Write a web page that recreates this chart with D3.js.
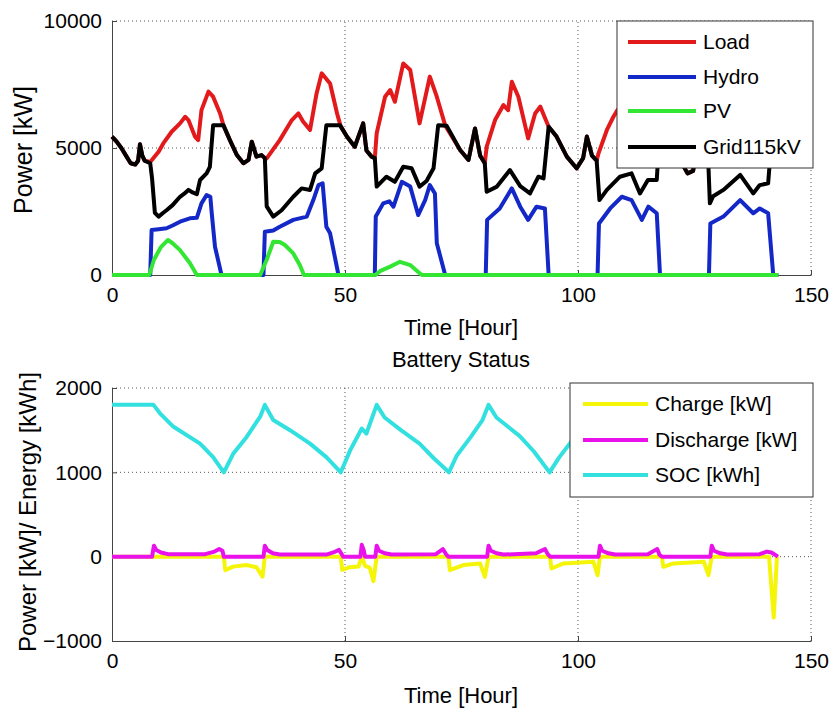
<!DOCTYPE html>
<html>
<head>
<meta charset="utf-8">
<script src="https://cdn.jsdelivr.net/npm/d3@7"></script>
<style>
  body { margin: 0; background: #fff; }
  svg { display: block; font-family: "Liberation Sans", Arial, sans-serif; }
</style>
</head>
<body>
<svg width="832" height="713"></svg>
<script>
// --- data: [hour, value] ---
const hourTicks = [0, 50, 100, 150];
const powerTicks = [0, 5000, 10000];
const batteryTicks = [-1000, 0, 1000, 2000];

const loadPts = [
  [0,5450],[1,5250],[2,5000],[3,4700],[4,4400],[5,4350],[5.6,4500],[6,5150],[6.5,4700],[7,4500],[8.2,4450],
  [10,4850],[11,5180],[12.8,5640],[14.6,5970],[15.7,6230],[16.4,6100],[17.8,5450],[18.5,5310],[19.2,6490],
  [20.7,7220],[21.7,7020],[23.2,6360],[23.9,5900],[25.3,5310],[26.8,4720],[28.2,4400],[29.3,4530],[30,5250],
  [31,4660],[32.1,4720],[32.8,4600],[33.2,4590],[36,5310],[38.6,6100],[40,6360],[41,6040],[42.5,5710],
  [43.9,7150],[45,7940],[46.8,7540],[48.3,6360],[49,5900],[50.4,5450],[52.1,5050],[53.9,5970],[54.6,4900],
  [55.7,4660],[56.4,4600],[56.8,5580],[58.6,7020],[59.7,7280],[60.7,6820],[62.5,8330],[64,8070],[66,5970],
  [68.2,7810],[69.7,7020],[71.5,5890],[74.7,4920],[76.5,4530],[77.9,5770],[79,4700],[80,4400],[80.4,5050],
  [82.2,6100],[84,6690],[85,6490],[85.8,7610],[87.2,7020],[89.3,5380],[90.8,6360],[91.9,6630],[93.7,5840],
  [95.4,5450],[97.6,4660],[99.7,4200],[101.1,4600],[101.9,5450],[103,4700],[104,4500],[104.4,4790],
  [106.2,5710],[107.6,6230],[108.5,6500],[110,6300],[111.5,6900],[113.5,5600],[115,6500],[116.5,6300],
  [117.6,5900],[119.5,5450],[121.5,4660],[123.5,4000],[124.7,4100],[125.9,5500],[127,4500],[128,4250],
  [128.3,4400],[130,5600],[132,6300],[134.5,6900],[136.5,5500],[138,6200],[140,6000],[141.4,5000],[143,4800]
];

const hydroPts = [
  [0,0],[8.2,0],[8.5,1770],[10,1800],[11.7,1840],[13,1950],[14.6,2100],[16.7,2230],[18.2,2250],[19.2,2820],
  [20.3,3150],[21.1,3080],[21.4,2440],[22.1,1115],[23.5,0],[32.5,0],[32.8,1700],[34.6,1750],[36,1900],
  [38.9,2170],[41.8,2300],[43.2,2950],[44.3,3540],[45.2,3610],[46,1900],[46.8,1640],[48.6,0],[56.4,0],
  [56.6,2300],[58.2,2820],[59.5,2900],[60.4,2690],[62.2,3670],[64,3480],[65.7,2360],[67.2,2950],[68.2,3540],
  [69.3,3210],[69.7,1250],[71.5,0],[80.2,0],[80.5,2170],[83.2,2620],[85.8,3410],[87.6,2690],[89.3,2170],
  [91.1,2690],[92.9,2620],[93.7,0],[104.2,0],[104.5,2030],[106.9,2620],[109.4,3080],[111.5,2950],
  [113.7,2170],[115.1,2690],[116.9,2430],[117.6,0],[128.1,0],[128.4,2030],[131.2,2300],[134.8,2950],
  [137.6,2430],[139,2620],[140.8,2430],[141.9,0],[143,0]
];

const pvPts = [
  [0,0],[8,0],[9,600],[10.5,1100],[12,1380],[13,1250],[14.6,980],[16.7,470],[18.2,0],[31.8,0],[33.2,600],
  [34.6,1310],[36,1300],[37.1,1180],[38.9,850],[40.3,390],[41.2,0],[56.5,0],[57.5,150],[59.7,330],
  [61.8,520],[63,450],[64,390],[65.7,120],[66.5,0],[143,0]
];

const gridPts = [
  [0,5450],[1,5250],[2,5000],[3,4700],[4,4400],[5,4350],[5.6,4500],[6,5150],[6.5,4700],[7,4500],[8.2,4400],
  [8.6,3800],[9.2,2450],[10,2300],[11,2450],[11.7,2550],[13,2750],[14.6,3080],[15.5,3200],[16.4,3350],
  [17.3,3250],[18.2,3180],[18.9,3740],[20.3,4000],[21,4260],[21.7,5900],[23.9,5900],[25.3,5310],[26.8,4720],
  [28.2,4400],[29.3,4530],[30,5250],[31,4660],[32.1,4720],[32.8,4600],[33.2,2700],[34.6,2300],[36.4,2550],
  [38.9,3080],[40.7,3410],[42.5,3350],[43.6,4000],[45,4200],[46,5900],[48.9,5900],[50.4,5450],[52.1,5050],
  [53.9,5970],[54.6,4900],[55.7,4660],[56.4,4600],[56.8,3480],[58.9,3870],[60.7,3670],[62.5,4260],
  [64.3,4200],[66,3480],[67.5,3700],[69,4200],[70,5900],[71.8,5880],[74.7,4920],[76.5,4530],[77.9,5770],
  [79,4700],[80,4400],[80.4,3280],[82.6,3480],[85.4,4130],[87.6,3500],[89.7,3210],[91.5,3870],[92.6,3800],
  [93.7,5840],[95.4,5450],[97.6,4660],[99.7,4200],[101.1,4600],[101.9,5450],[103,4700],[104,4500],
  [104.6,2950],[106.2,3350],[109,3870],[111.5,4000],[113.3,3210],[115,3740],[116.9,3740],[117.6,5900],
  [119.5,5450],[121.5,4660],[123.5,4000],[124.7,4100],[125.9,5500],[127,4500],[128,4250],[128.3,2820],
  [129,3100],[131.2,3350],[134.8,3940],[137.6,3210],[139,3540],[140.8,3610],[141.4,5000],[143,4800]
];

const chargePts = [
  [0,0],[24,0],[24.3,-160],[26,-118],[28.9,-100],[31,-125],[32.3,-237],[32.8,0],[49.1,0],[49.4,-158],
  [51,-125],[52.9,-118],[53.6,0],[54.3,-110],[55.3,-130],[56.1,-290],[56.8,0],[72.2,0],[72.5,-160],
  [75.4,-100],[79,-80],[80,-240],[80.8,0],[94,0],[94.3,-140],[96.9,-80],[103.3,-60],[104.2,-220],[104.7,0],
  [118,0],[118.3,-120],[120.5,-80],[127,-60],[128,-220],[128.7,0],[141,0],[142,-722],[142.7,0],[143,0]
];

const dischargePts = [
  [0,0],[8.6,0],[9,130],[9.5,80],[10.5,50],[12,30],[20,30],[22,60],[23,90],[23.7,70],[24,0],[32.5,0],
  [32.8,130],[33.3,80],[34.5,40],[36,25],[46,25],[47.5,50],[48.7,80],[49.3,30],[49.6,0],[53.3,0],[53.6,140],
  [54,80],[54.3,0],[56.5,0],[56.8,130],[57.3,70],[58.5,40],[60,25],[69.5,30],[71,90],[71.8,20],[72.2,0],
  [80.5,0],[80.8,130],[81.3,70],[82.5,40],[84,25],[91,40],[92.9,90],[93.5,30],[94,0],[104.4,0],[104.7,130],
  [105.2,70],[106.5,40],[108,25],[115,30],[117,90],[117.5,20],[118,0],[128.4,0],[128.7,130],[129.2,70],
  [130.5,40],[132,25],[139,30],[140.5,60],[141.5,50],[142.9,0]
];

const socPts = [
  [0,1800],[8.9,1800],[10.3,1700],[13.2,1540],[18.9,1340],[21.7,1180],[24,1000],[26,1220],[28.9,1420],
  [31.8,1660],[32.8,1800],[34.6,1620],[38.2,1500],[42.5,1340],[46,1180],[49.1,1000],[51.1,1260],
  [53.6,1520],[54.6,1460],[56.8,1800],[58.5,1650],[62,1500],[66,1340],[69,1170],[72.3,1000],[74,1200],
  [77,1420],[79.5,1620],[80.8,1800],[82.5,1650],[87.5,1430],[90.5,1250],[93.9,1000],[96,1180],[98.3,1345],
  [101,1550],[104.5,1800],[106.5,1650],[110,1500],[114,1300],[117.5,1000],[120,1220],[124,1450],
  [128.5,1800],[131,1650],[135,1500],[139,1280],[143,1050]
];

const topSeries = [
  { name: 'Load', pts: loadPts, color: '#e31a1c' },
  { name: 'Hydro', pts: hydroPts, color: '#1428c8' },
  { name: 'PV', pts: pvPts, color: '#33e633' },
  { name: 'Grid115kV', pts: gridPts, color: '#000000' }
];
const bottomSeries = [
  { name: 'Charge [kW]', pts: chargePts, color: '#f5f50a' },
  { name: 'Discharge [kW]', pts: dischargePts, color: '#ea12ea' },
  { name: 'SOC [kWh]', pts: socPts, color: '#33e0e0' }
];

const svg = d3.select('svg');
const x = d3.scaleLinear().domain([0, 150]).range([112, 811]);
const yTop = d3.scaleLinear().domain([0, 10000]).range([275, 21]);
const yBot = d3.scaleLinear().domain([-1000, 2000]).range([641, 388]);

function drawPanel(y, yTicks, series, legend, labels) {
  const g = svg.append('g');
  const [y0, y1] = y.range();

  // dotted grid
  g.selectAll('line.vg').data(hourTicks.slice(1)).enter().append('line')
    .attr('x1', (d) => x(d)).attr('x2', (d) => x(d))
    .attr('y1', y0).attr('y2', y1);
  g.selectAll('line.hg').data(yTicks.filter((d) => d !== y.domain()[0])).enter().append('line')
    .attr('x1', x(0)).attr('x2', x(150))
    .attr('y1', (d) => y(d)).attr('y2', (d) => y(d));
  g.selectAll('line')
    .attr('stroke', '#555').attr('stroke-width', 1).attr('stroke-dasharray', '1,3');

  const xa = g.append('g').attr('transform', `translate(0,${y0})`)
    .call(d3.axisBottom(x).tickValues(hourTicks).tickSizeInner(-5).tickSizeOuter(0).tickPadding(12));
  const ya = g.append('g').attr('transform', `translate(${x(0)},0)`)
    .call(d3.axisLeft(y).tickValues(yTicks).tickFormat(d3.format('d')).tickSizeInner(-5).tickSizeOuter(0).tickPadding(10));
  [xa, ya].forEach((a) => {
    a.select('.domain').attr('stroke', '#444');
    a.selectAll('.tick line').attr('stroke', '#444');
    a.selectAll('.tick text').attr('font-size', 21).attr('fill', '#000')
      .attr('font-family', '"Liberation Sans", Arial, sans-serif');
  });

  const line = d3.line().x((d) => x(d[0])).y((d) => y(d[1]));
  g.selectAll('path.series').data(series).enter().append('path')
    .attr('class', 'series')
    .attr('d', (d) => line(d.pts))
    .attr('fill', 'none')
    .attr('stroke', (d) => d.color)
    .attr('stroke-width', 4)
    .attr('stroke-linejoin', 'round');

  // legend
  const lg = g.append('g');
  lg.append('rect')
    .attr('x', legend.x).attr('y', legend.y)
    .attr('width', legend.w).attr('height', legend.h)
    .attr('fill', '#fff').attr('stroke', '#333');
  const row = lg.selectAll('g.row').data(series).enter().append('g')
    .attr('transform', (d, i) => `translate(0,${legend.rows[i]})`);
  row.append('line')
    .attr('x1', legend.lx1).attr('x2', legend.lx2)
    .attr('stroke', (d) => d.color).attr('stroke-width', 4);
  row.append('text')
    .attr('x', legend.tx).attr('dy', '0.35em')
    .attr('font-size', 21)
    .text((d) => d.name);

  // axis titles
  svg.append('text').attr('x', 461).attr('y', labels.xy)
    .attr('text-anchor', 'middle').attr('font-size', 22).text('Time [Hour]');
  svg.append('text')
    .attr('transform', `translate(${labels.yx},${labels.yy}) rotate(-90)`)
    .attr('text-anchor', 'middle').attr('font-size', labels.ys).text(labels.y);
}

drawPanel(yTop, powerTicks, topSeries,
  { x: 617, y: 21, w: 196, h: 147, lx1: 628, lx2: 696, tx: 703, rows: [42, 77, 111, 147] },
  { xy: 335, yx: 32, yy: 150, y: 'Power [kW]', ys: 25 });

svg.append('text').attr('x', 461).attr('y', 367)
  .attr('text-anchor', 'middle').attr('font-size', 22).text('Battery Status');

drawPanel(yBot, batteryTicks, bottomSeries,
  { x: 570, y: 383, w: 243, h: 114, lx1: 583, lx2: 648, tx: 655, rows: [404, 440, 475] },
  { xy: 703, yx: 36, yy: 512, y: 'Power [kW]/ Energy [kWh]', ys: 24 });
</script>
</body>
</html>
